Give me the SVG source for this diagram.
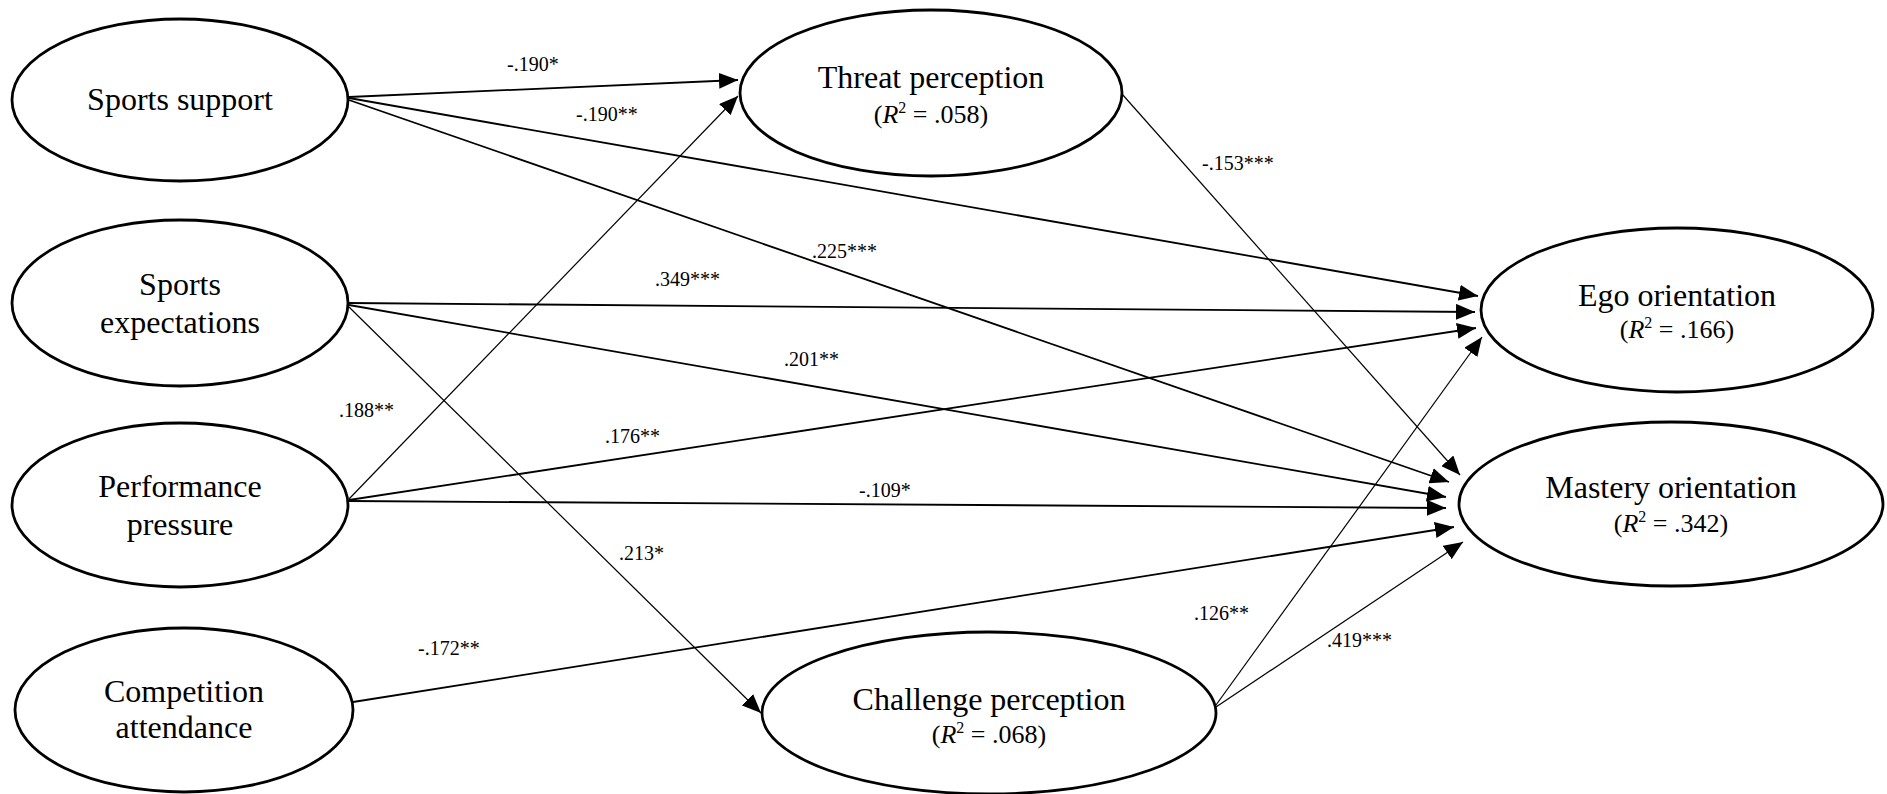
<svg xmlns="http://www.w3.org/2000/svg" width="1887" height="794" viewBox="0 0 1887 794">
<defs>
<marker id="arr" markerUnits="userSpaceOnUse" markerWidth="19" markerHeight="16" refX="19" refY="8" orient="auto">
<path d="M0,0 L19,8 L0,16 z" fill="#000"/>
</marker>
<style>
.node ellipse{fill:#fff;stroke:#000;stroke-width:2.8}
.lbl{font-family:"Liberation Serif","Times New Roman",serif;font-size:32px;fill:#000;text-anchor:middle}
.r2{font-family:"Liberation Serif","Times New Roman",serif;font-size:26px;fill:#000;text-anchor:middle}
.coef{font-family:"Liberation Serif","Times New Roman",serif;font-size:20px;fill:#000}
.e{stroke:#000;stroke-width:1.8;fill:none;marker-end:url(#arr)}
.t{stroke:#000;stroke-width:1.2;fill:none;marker-end:url(#arr)}
</style>
</defs>
<rect width="1887" height="794" fill="#fff"/>
<g id="connectors">
<line class="e" x1="349" y1="97" x2="738" y2="80"/>
<line class="e" x1="349" y1="98" x2="1478" y2="296"/>
<line class="e" x1="349" y1="100" x2="1449" y2="482"/>
<line class="e" x1="349" y1="303" x2="1475" y2="312"/>
<line class="e" x1="349" y1="305" x2="1446" y2="497"/>
<line class="t" x1="349" y1="307" x2="761" y2="713"/>
<line class="t" x1="349" y1="499" x2="738" y2="96"/>
<line class="e" x1="349" y1="500" x2="1476" y2="328"/>
<line class="e" x1="349" y1="501" x2="1446" y2="508"/>
<line class="e" x1="353" y1="702" x2="1454" y2="527"/>
<line class="t" x1="1122" y1="94" x2="1460" y2="475"/>
<line class="t" x1="1216" y1="705" x2="1482" y2="337"/>
<line class="t" x1="1216" y1="707" x2="1463" y2="542"/>
<text class="coef" x="507" y="71">-.190*</text>
<text class="coef" x="576" y="121">-.190**</text>
<text class="coef" x="812" y="258">.225***</text>
<text class="coef" x="655" y="286">.349***</text>
<text class="coef" x="784" y="366">.201**</text>
<text class="coef" x="339" y="417">.188**</text>
<text class="coef" x="605" y="443">.176**</text>
<text class="coef" x="859" y="497">-.109*</text>
<text class="coef" x="619" y="560">.213*</text>
<text class="coef" x="418" y="655">-.172**</text>
<text class="coef" x="1202" y="170">-.153***</text>
<text class="coef" x="1194" y="620">.126**</text>
<text class="coef" x="1327" y="647">.419***</text>
</g>
<g id="sports-support" class="node">
<ellipse cx="180" cy="100" rx="168" ry="81"/>
<text class="lbl" x="180" y="110">Sports support</text>
</g>
<g id="sports-expectations" class="node">
<ellipse cx="180" cy="303" rx="168" ry="83"/>
<text class="lbl" x="180" y="295">Sports</text>
<text class="lbl" x="180" y="333">expectations</text>
</g>
<g id="performance-pressure" class="node">
<ellipse cx="180" cy="505" rx="168" ry="82"/>
<text class="lbl" x="180" y="497">Performance</text>
<text class="lbl" x="180" y="535">pressure</text>
</g>
<g id="competition-attendance" class="node">
<ellipse cx="184" cy="710" rx="169" ry="82"/>
<text class="lbl" x="184" y="702">Competition</text>
<text class="lbl" x="184" y="738">attendance</text>
</g>
<g id="threat-perception" class="node">
<ellipse cx="931" cy="93" rx="191" ry="83"/>
<text class="lbl" x="931" y="88">Threat perception</text>
<text class="r2" x="931" y="123">(<tspan font-style="italic">R</tspan><tspan font-size="16" dy="-10">2</tspan><tspan dy="10"> = .058)</tspan></text>
</g>
<g id="challenge-perception" class="node">
<ellipse cx="989" cy="713" rx="227" ry="81"/>
<text class="lbl" x="989" y="710">Challenge perception</text>
<text class="r2" x="989" y="743">(<tspan font-style="italic">R</tspan><tspan font-size="16" dy="-10">2</tspan><tspan dy="10"> = .068)</tspan></text>
</g>
<g id="ego-orientation" class="node">
<ellipse cx="1677" cy="310" rx="196" ry="82"/>
<text class="lbl" x="1677" y="306">Ego orientation</text>
<text class="r2" x="1677" y="338">(<tspan font-style="italic">R</tspan><tspan font-size="16" dy="-10">2</tspan><tspan dy="10"> = .166)</tspan></text>
</g>
<g id="mastery-orientation" class="node">
<ellipse cx="1671" cy="504" rx="212" ry="82"/>
<text class="lbl" x="1671" y="498">Mastery orientation</text>
<text class="r2" x="1671" y="532">(<tspan font-style="italic">R</tspan><tspan font-size="16" dy="-10">2</tspan><tspan dy="10"> = .342)</tspan></text>
</g>
</svg>
